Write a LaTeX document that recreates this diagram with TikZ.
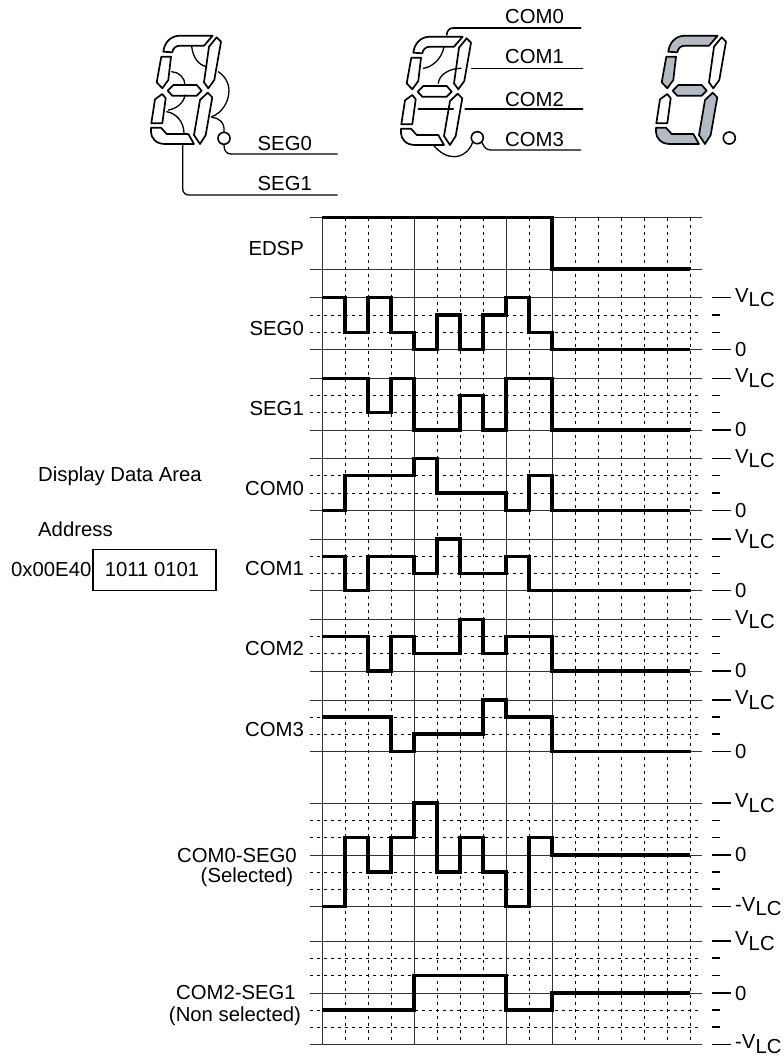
\documentclass[tikz,border=0pt]{standalone}
\usepackage{fontspec}
\setmainfont{Liberation Sans}
\newcommand{\vlc}{V\raisebox{-4.5bp}{LC}}
\tikzset{
  thinline/.style={line width=1bp,black!80},
  dashline/.style={line width=1bp,black,dash pattern=on 3bp off 4bp},
  wave/.style={line width=3.3bp,black,line join=miter,line cap=square},
  wire/.style={line width=1.3bp,black,line cap=round},
  segline/.style={line width=1.7bp,black,line join=round},
  dpoint/.style={circle,draw,line width=1.6bp,black,minimum size=12bp,inner sep=0pt},
  txt/.style={inner sep=0pt,font=\fontsize{20.3bp}{24bp}\selectfont},
  box/.style={draw,line width=1.3bp,black,minimum width=123bp,minimum height=41.4bp,inner sep=0pt,font=\fontsize{20.3bp}{24bp}\selectfont},
  segon/.style={segline,fill=segfill},
  segoff/.style={segline,fill=white}
}
\definecolor{segfill}{RGB}{180,186,196}
% a f b g e c d
\newcommand{\sevenseg}[9]{%
 \begin{scope}[shift={(#1,#2)}]
  \draw[#3] (78.3,31.7) .. controls (79.5,22) and (86,15.7) .. (95,15.7) -- (127.7,15.7) -- (119,25.7) -- (95,25.7) .. controls (91,25.7) and (88,28) .. (87.3,32.3) -- cycle;
  \draw[#4] (76.3,36.7) -- (86,36.7) -- (83.3,60) -- (77.3,68.3) -- (71.7,62.3) -- cycle;
  \draw[#5] (131.7,17.3) -- (136,21.7) -- (129.3,60) -- (123.3,68.3) -- (119,62.3) -- (124,26.7) -- cycle;
  \draw[#6] (82.7,70.7) -- (88.3,65) -- (111.7,65) -- (116.7,70.7) -- (111.7,75.7) -- (87.3,75.7) -- cycle;
  \draw[#7] (77.3,74) -- (80.7,78.3) -- (77.3,103.3) -- (66.3,103.3) -- (70,79.3) -- cycle;
  \draw[#8] (122.7,72.7) -- (127.3,77.3) -- (120.7,115) -- (115,124) -- (109,115) -- (115,80) -- cycle;
  \draw[#9] (66,107.7) -- (76,107.7) -- (81.7,114) -- (103.3,114) -- (109,124) -- (80,124) .. controls (71,124) and (66,118) .. (66,112) -- cycle;
 \end{scope}}
\begin{document}
\begin{tikzpicture}[x=1bp,y=-1bp]
\useasboundingbox (0,0) rectangle (784,1059);
% --- grid
\foreach \x in {345,368,391,437,460,483,529,575,598,621,644,667,690}
  \draw[dashline] (\x,217.5) -- (\x,1044.3);
\foreach \y in {315,332.5,395.5,412.7,475.7,493,556.3,573.3,636.7,653.7,717,734,820.5,837.7,872,889,958,975.5,1010,1027}
  \draw[dashline] (310,\y) -- (702,\y);
\foreach \y in {217.5,269,297.7,349.7,378.3,430,458.7,510.3,539,590.7,619.7,671,700,751.7,803,855,906.5,941,993,1044.3}
  \draw[thinline] (310,\y) -- (702,\y);
\foreach \x in {322,414,506,552}
  \draw[thinline] (\x,217.5) -- (\x,1044.3);
% --- waveforms
\draw[wave] (322,217.5) -| (552,269) -- (690,269);
\draw[wave] (322,297.7) -| (345,332.5) -| (368,297.7) -| (391,332.5) -| (414,349.7) -| (437,315) -| (460,349.7) -| (483,315) -| (506,297.7) -| (529,332.5) -| (552,349.7) -- (690,349.7);
\draw[wave] (322,378.3) -| (368,412.7) -| (391,378.3) -| (414,430) -| (460,395.5) -| (483,430) -| (506,378.3) -| (552,430) -- (690,430);
\draw[wave] (322,510.3) -| (345,475.7) -| (414,458.7) -| (437,493) -| (506,510.3) -| (529,475.7) -| (552,510.3) -- (690,510.3);
\draw[wave] (322,556.3) -| (345,590.7) -| (368,556.3) -| (414,573.3) -| (437,539) -| (460,573.3) -| (506,556.3) -| (529,590.7) -- (690,590.7);
\draw[wave] (322,636.7) -| (368,671) -| (391,636.7) -| (414,653.7) -| (460,619.7) -| (483,653.7) -| (506,636.7) -| (552,671) -- (690,671);
\draw[wave] (322,717) -| (391,751.7) -| (414,734) -| (483,700) -| (506,717) -| (552,751.7) -- (690,751.7);
\draw[wave] (322,906.5) -| (345,837.7) -| (368,872) -| (391,837.7) -| (414,803) -| (437,872) -| (460,837.7) -| (483,872) -| (506,906.5) -| (529,837.7) -| (552,855) -- (690,855);
\draw[wave] (322,1010) -| (414,975.5) -| (506,1010) -| (552,993) -- (690,993);
% --- right scale ticks
\foreach \y in {297.7,349.7,378.3,430,458.7,510.3,539,590.7,619.7,671,700,751.7,803,855,906.5,941,993,1044.3}
  \draw[line width=1.3bp] (711.5,\y) -- (731,\y);
\foreach \y in {315,332.5,395.5,412.7,475.7,493,556.3,573.3,636.7,653.7,717,734,820.5,837.7,872,889,958,975.5,1010,1027}
  \draw[line width=1.3bp] (711.5,\y) -- (719.5,\y);
\foreach \n/\y in {a/297.7,b/378.3,c/458.7,d/539,e/619.7,f/700,g/803,h/941}
  \node[txt,anchor=west] (v\n) at (735,\y) {\vlc};
\foreach \n/\y in {a/349.7,b/430,c/510.3,d/590.7,e/671,f/751.7,g/855,h/993}
  \node[txt,anchor=west] (z\n) at (735,\y) {0};
\node[txt,anchor=west] (mvg) at (735,906.5) {-\vlc};
\node[txt,anchor=west] (mvh) at (735,1044.3) {-\vlc};
% --- left labels
\node[txt,anchor=base east] (ledsp) at (304,255.5) {EDSP};
\node[txt,anchor=base east] (lseg0) at (304,335) {SEG0};
\node[txt,anchor=base east] (lseg1) at (304,415.5) {SEG1};
\node[txt,anchor=base east] (lcom0) at (304,495.5) {COM0};
\node[txt,anchor=base east] (lcom1) at (304,575.5) {COM1};
\node[txt,anchor=base east] (lcom2) at (304,655) {COM2};
\node[txt,anchor=base east] (lcom3) at (304,736) {COM3};
\node[txt] (lsel) at (237,856) {COM0-SEG0};
\node[txt] (lsel2) at (247,877) {(Selected)};
\node[txt] (lnon) at (236,992) {COM2-SEG1};
\node[txt] (lnon2) at (235,1016) {(Non selected)};
\node[txt,anchor=base west] (dda) at (38,481.7) {Display Data Area};
\node[txt,anchor=base west] (addr) at (38,536) {Address};
\node[txt,anchor=base west] (adv) at (11,576.7) {0x00E40};
\node[box] (databox) at (154.5,570) {\hspace*{-5bp}1011 0101};
% --- seven-segment displays
\sevenseg{85}{20}{segoff}{segoff}{segoff}{segoff}{segoff}{segoff}{segoff}
\sevenseg{335}{21}{segoff}{segoff}{segoff}{segoff}{segoff}{segoff}{segoff}
\sevenseg{590}{20}{segon}{segon}{segoff}{segon}{segoff}{segon}{segon}
\node[dpoint] (dp1) at (224,138.3) {};
\node[dpoint] (dp2) at (477.3,137.7) {};
\node[dpoint] (dp3) at (729.3,138) {};
% first display wiring
\coordinate (s0e) at (337.3,154);
\coordinate (s1s) at (182.7,145);
\coordinate (s1e) at (337.3,195);
\coordinate (cp1) at (211.7,117.3);
\draw[wire] (191.7,46.7) .. controls (193,57) and (198,65) .. (206.7,66.7);
\draw[wire] (171.7,71.7) .. controls (179,72) and (185,78) .. (185,85);
\draw[wire] (168.3,110) .. controls (176,109) and (184,103) .. (185,95);
\draw[wire] (166.7,111.7) .. controls (176,113) and (184,122) .. (184,133.3);
\draw[wire] (218.3,71.7) .. controls (226,77) and (229,84) .. (229,90) .. controls (229,102) and (222,113) .. (211.7,116.7);
\draw[wire] (cp1) .. controls (218,117.5) and (225,122) .. (dp1.north);
\draw[wire] (dp1.south) .. controls (224,150) and (226,154) .. (231,154) -- (s0e);
\draw[wire,rounded corners=6bp] (s1s) |- (s1e);
\node[txt,anchor=base west] (tseg0) at (257.5,150) {SEG0};
\node[txt,anchor=base west] (tseg1) at (257.5,190) {SEG1};
% second display wiring
\coordinate (c0s) at (446.7,35);
\coordinate (c0e) at (580.7,28);
\coordinate (c1s) at (471.7,68.3);
\coordinate (c1e) at (582.7,68.3);
\coordinate (c2a) at (418.3,109);
\coordinate (c2b) at (453.3,109);
\coordinate (c2c) at (465,109);
\coordinate (c2e) at (582.7,109);
\coordinate (c3e) at (580.7,150);
\draw[wire,line width=1.6bp] (c0s) .. controls (447,31) and (449,28) .. (453,28) -- (c0e);
\draw[wire] (c1s) -- (c1e);
\draw[wire] (438.3,83.3) .. controls (439,75) and (449,68.3) .. (461,68.3);
\draw[wire] (444,46.7) .. controls (442,58) and (433,67) .. (423.3,68.3);
\draw[wire] (c2a) -- (c2b);
\draw[wire] (c2c) -- (c2e);
\draw[wire] (433.3,145) .. controls (440,153) and (447,156.7) .. (454,156.7) .. controls (463,156.7) and (470,150) .. (dp2.south west);
\draw[wire] (dp2.south east) .. controls (484,147) and (486,150) .. (491,150) -- (c3e);
\node[txt,anchor=base west] (tc0) at (505,23.5) {COM0};
\node[txt,anchor=base west] (tc1) at (505,63.5) {COM1};
\node[txt,anchor=base west] (tc2) at (505,106.5) {COM2};
\node[txt,anchor=base west] (tc3) at (505,146.5) {COM3};
\end{tikzpicture}
\end{document}
